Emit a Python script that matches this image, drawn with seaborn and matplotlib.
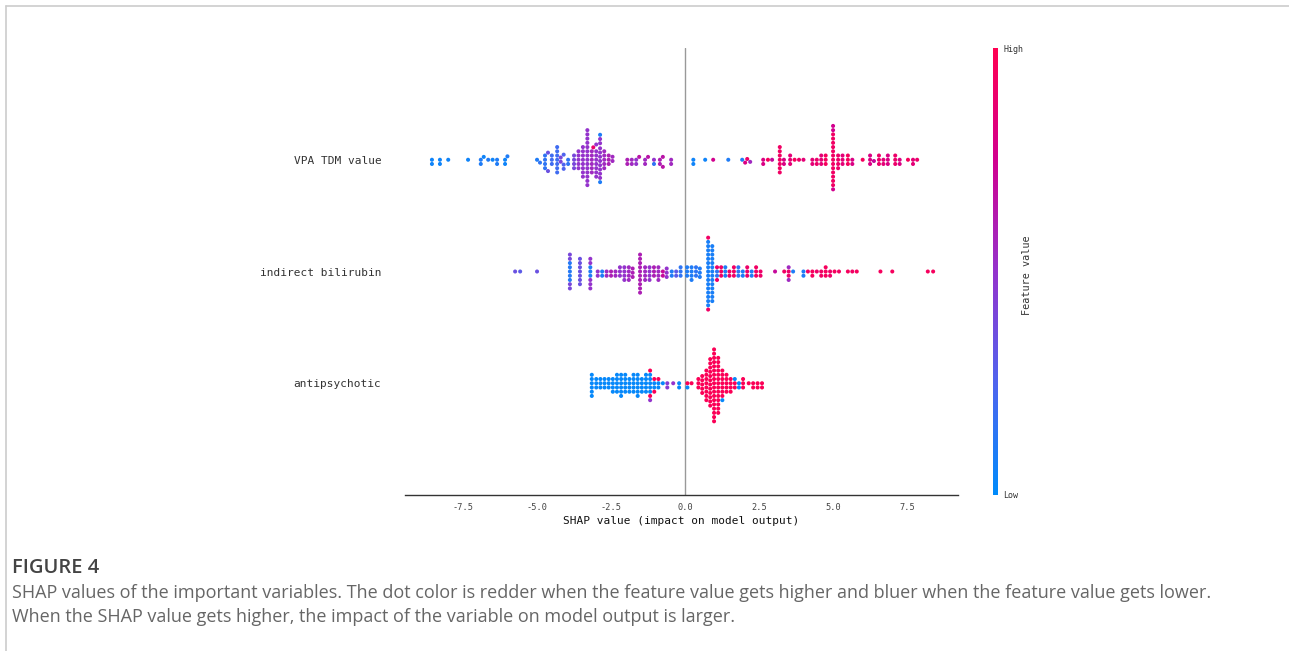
import warnings
import numpy as np
import pandas as pd
import matplotlib
matplotlib.use("Agg")
import matplotlib.pyplot as plt
from matplotlib.colors import LinearSegmentedColormap, Normalize
from matplotlib.cm import ScalarMappable
from matplotlib.lines import Line2D
import seaborn as sns

warnings.filterwarnings("ignore")

# ------------------------------
# Data: SHAP value, number of dots, feature value (0 low .. 1 high)
# ------------------------------
features = ["VPA TDM value", "indirect bilirubin", "antipsychotic"]

vpa_shap = [-8.55, -8.28, -8.0, -7.33, -6.9, -6.8, -6.65, -6.5, -6.35, -6.08, -6.0,
            -5.0, -4.9, -4.73, -4.63, -4.5, -4.32, -4.2, -4.1, -3.95,
            -3.75, -3.6, -3.45, -3.3, -3.15, -3.1, -3.0, -2.87, -2.87, -2.73, -2.58, -2.45,
            -1.95, -1.8, -1.65, -1.55, -1.35, -1.25, -1.05, -1.05, -0.85, -0.75, -0.47,
            0.28, 0.68, 0.95, 1.46, 1.93, 2.03, 2.1, 2.2, 2.64, 2.8, 2.94,
            3.2, 3.34, 3.55, 3.7, 3.85, 4.0, 4.3, 4.45, 4.6, 4.75,
            5.0, 5.0, 5.17, 5.32, 5.5, 5.65, 6.0, 6.25, 6.38, 6.55, 6.7, 6.85,
            7.1, 7.25, 7.53, 7.7, 7.84]
vpa_count = [2, 2, 1, 1, 2, 1, 1, 1, 2, 2, 1,
             1, 1, 4, 2, 3, 7, 2, 3, 2,
             4, 5, 8, 14, 6, 1, 8, 10, 2, 5, 3, 2,
             2, 2, 2, 1, 2, 1, 1, 1, 2, 2, 2,
             2, 1, 1, 1, 1, 1, 1, 1, 2, 1, 1,
             7, 2, 3, 1, 1, 1, 2, 2, 3, 3,
             13, 3, 4, 3, 3, 2, 1, 3, 1, 3, 2, 3,
             3, 2, 1, 2, 1]
vpa_feat = [0.05, 0.05, 0.05, 0.05, 0.1, 0.05, 0.1, 0.05, 0.1, 0.05, 0.1,
            0.1, 0.15, 0.15, 0.35, 0.2, 0.2, 0.4, 0.25, 0.15,
            0.4, 0.5, 0.5, 0.5, 0.55, 0.9, 0.5, 0.5, 0.1, 0.55, 0.6, 0.55,
            0.6, 0.55, 0.5, 0.65, 0.55, 0.65, 0.5, 0.15, 0.6, 0.65, 0.55,
            0.05, 0.05, 0.75, 0.1, 0.1, 0.8, 0.9, 0.55, 0.8, 0.95, 0.7,
            0.92, 0.8, 0.85, 0.95, 0.9, 0.85, 0.85, 0.9, 0.85, 0.95,
            0.92, 0.75, 0.9, 0.85, 0.95, 0.8, 0.95, 0.8, 0.7, 0.9, 0.85, 0.8,
            0.9, 0.8, 0.95, 0.85, 0.9]

bili_shap = [-5.74, -5.57, -5.0, -3.89, -3.89, -3.55, -3.2, -3.2,
             -2.95, -2.8, -2.65, -2.5, -2.35, -2.2, -2.05, -1.9, -1.77,
             -1.52, -1.35, -1.2, -1.05, -0.9, -0.75, -0.62,
             -0.45, -0.3, -0.15, 0.07, 0.22, 0.37, 0.5,
             0.78, 0.78, 0.92, 1.08, 1.08, 1.22, 1.36, 1.5,
             1.65, 1.8, 1.95, 2.1, 2.25, 2.4, 2.55,
             3.04, 3.35, 3.5, 3.5, 3.65,
             4.0, 4.15, 4.3, 4.45, 4.6, 4.75, 4.9, 5.05, 5.2,
             5.5, 5.65, 5.8, 6.6, 7.0, 8.2, 8.38]
bili_count = [1, 1, 1, 5, 4, 7, 3, 5,
              2, 2, 2, 2, 2, 3, 4, 4, 3,
              10, 4, 4, 3, 4, 2, 3,
              2, 2, 3, 3, 4, 3, 3,
              16, 2, 14, 2, 2, 3, 3, 2,
              3, 3, 2, 3, 2, 3, 2,
              1, 1, 2, 2, 1,
              2, 1, 2, 1, 2, 3, 2, 1, 1,
              1, 1, 1, 1, 1, 1, 1]
bili_feat = [0.35, 0.3, 0.35, 0.12, 0.4, 0.35, 0.1, 0.5,
             0.5, 0.1, 0.55, 0.6, 0.55, 0.5, 0.5, 0.55, 0.6,
             0.6, 0.55, 0.5, 0.6, 0.55, 0.7, 0.5,
             0.1, 0.3, 0.15, 0.1, 0.1, 0.15, 0.1,
             0.08, 0.92, 0.08, 0.15, 0.9, 0.92, 0.1, 0.9,
             0.92, 0.15, 0.1, 0.9, 0.1, 0.92, 0.9,
             0.7, 0.92, 0.9, 0.55, 0.1,
             0.1, 0.92, 0.95, 0.9, 0.92, 0.95, 0.9, 0.95, 0.92,
             0.95, 0.92, 0.95, 0.95, 0.95, 0.95, 0.95]

anti_shap = [-3.15, -3.0, -2.86, -2.72, -2.58, -2.44, -2.3, -2.16, -2.02, -1.88, -1.74,
             -1.6, -1.46, -1.32, -1.18, -1.18, -1.18, -1.04, -1.04, -0.9, -0.9,
             -0.75, -0.6, -0.4, -0.2, 0.08, 0.08, 0.22,
             0.45, 0.58, 0.72, 0.85, 0.98, 1.12, 1.26, 1.26,
             1.4, 1.54, 1.68, 1.68, 1.82, 1.96, 2.15, 2.3, 2.45, 2.6]
anti_count = [6, 3, 3, 3, 3, 4, 5, 6, 5, 4, 5,
              6, 4, 5, 5, 2, 1, 2, 2, 2, 1,
              1, 2, 1, 2, 1, 1, 1,
              3, 5, 8, 12, 18, 14, 7, 1,
              5, 4, 2, 1, 2, 3, 1, 2, 2, 2]
anti_feat = [0.02, 0.02, 0.02, 0.02, 0.02, 0.02, 0.02, 0.02, 0.02, 0.02, 0.02,
             0.02, 0.02, 0.02, 0.02, 0.98, 0.5, 0.02, 0.98, 0.02, 0.98,
             0.02, 0.45, 0.5, 0.02, 0.98, 0.02, 0.98,
             0.98, 0.98, 0.98, 0.98, 0.98, 0.98, 0.98, 0.02,
             0.98, 0.98, 0.98, 0.02, 0.02, 0.98, 0.98, 0.98, 0.98, 0.98]

frames = []
for name, xs, ns, fs in [(features[0], vpa_shap, vpa_count, vpa_feat),
                         (features[1], bili_shap, bili_count, bili_feat),
                         (features[2], anti_shap, anti_count, anti_feat)]:
    frames.append(pd.DataFrame({
        "shap": np.repeat(xs, ns),
        "value": np.repeat(fs, ns),
        "feature": name,
    }))
df = pd.concat(frames, ignore_index=True)

# SHAP-like red/blue colormap
red_blue = LinearSegmentedColormap.from_list(
    "red_blue", ["#008bfb", "#4f64ee", "#9433cc", "#d1008f", "#ff0051"])

sns.set_style("white")
mono = "DejaVu Sans Mono"

fig = plt.figure(figsize=(12.89, 6.51), dpi=100)
ax = fig.add_axes([405 / 1289, 1 - 495 / 651, 553 / 1289, 447 / 651])

ax.axvline(0, color="#999999", lw=1, zorder=0)
sns.swarmplot(data=df, x="shap", y="feature", hue="value", order=features,
              palette=red_blue, hue_norm=(0, 1), size=2.9, linewidth=0,
              orient="h", legend=False, ax=ax, zorder=3)

ax.set_xlim(-9.46, 9.22)
ax.set_ylim(3, -1)
ax.set_xticks([-7.5, -5.0, -2.5, 0.0, 2.5, 5.0, 7.5])
ax.set_xticklabels(["-7.5", "-5.0", "-2.5", "0.0", "2.5", "5.0", "7.5"],
                   fontfamily=mono, fontsize=6.2, color="#444444")
ax.set_yticks(range(len(features)))
ax.set_yticklabels(features, fontfamily=mono, fontsize=8, color="#333333")
ax.tick_params(axis="y", length=0, pad=17)
ax.tick_params(axis="x", length=3, width=0.8, color="#333333", pad=3, direction="out")
ax.set_ylabel("")
ax.set_xlabel("SHAP value (impact on model output)", fontfamily=mono,
              fontsize=8, color="#111111", labelpad=3)
for s in ["left", "top", "right"]:
    ax.spines[s].set_visible(False)
ax.spines["bottom"].set_color("#333333")
ax.spines["bottom"].set_linewidth(1)

# colour bar
cax = fig.add_axes([993 / 1289, 1 - 495 / 651, 5 / 1289, 447 / 651])
cb = fig.colorbar(ScalarMappable(norm=Normalize(0, 1), cmap=red_blue), cax=cax)
cb.outline.set_visible(False)
cb.set_ticks([0, 1])
cb.set_ticklabels(["Low", "High"])
cax.tick_params(length=0, pad=4, labelsize=6)
for lab in cax.get_yticklabels():
    lab.set_fontfamily(mono)
    lab.set_color("#333333")
fig.text(1027 / 1289, 1 - 275 / 651, "Feature value", rotation=90, ha="center",
         va="center", fontfamily=mono, fontsize=7.3, color="#333333")

# caption and frame
fig.text(12 / 1289, 1 - 568 / 651, "FIGURE 4", fontfamily="Open Sans", fontsize=14.5,
         fontweight="semibold", color="#444444", va="center")
fig.text(12 / 1289, 1 - 593 / 651,
         "SHAP values of the important variables. The dot color is redder when the feature value "
         "gets higher and bluer when the feature value gets lower.",
         fontfamily="Open Sans", fontsize=13.0, color="#666666", va="center")
fig.text(12 / 1289, 1 - 617 / 651,
         "When the SHAP value gets higher, the impact of the variable on model output is larger.",
         fontfamily="Open Sans", fontsize=13.0, color="#666666", va="center")
fig.add_artist(Line2D([6 / 1289, 1], [1 - 5.5 / 651, 1 - 5.5 / 651],
                      transform=fig.transFigure, color="#cccccc", lw=1.2))
fig.add_artist(Line2D([6 / 1289, 6 / 1289], [0, 1 - 5.5 / 651],
                      transform=fig.transFigure, color="#cccccc", lw=1.2))

fig.savefig("out.png", dpi=100)
